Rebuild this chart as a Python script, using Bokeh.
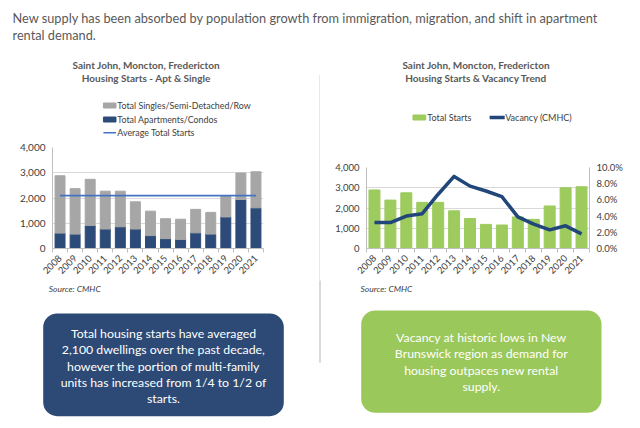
import math
from bokeh.plotting import figure
from bokeh.layouts import column, row
from bokeh.models import (Range1d, LinearAxis, FixedTicker, NumeralTickFormatter,
                          PrintfTickFormatter, BoxAnnotation, ColumnDataSource, Spacer)
from bokeh.core.properties import value
from bokeh.embed import file_html
from bokeh.resources import INLINE

# ---------------- data ----------------
years = ["2008", "2009", "2010", "2011", "2012", "2013", "2014",
         "2015", "2016", "2017", "2018", "2019", "2020", "2021"]
apartments = [610, 570, 910, 770, 860, 770, 510, 390, 360, 620, 570, 1250, 1940, 1610]
singles = [2270, 1800, 1830, 1500, 1410, 1080, 970, 790, 800, 930, 860, 830, 1050, 1430]
total_starts = [2890, 2390, 2750, 2280, 2280, 1860, 1480, 1190, 1160, 1560, 1440, 2100, 3000, 3050]
vacancy = [3.2, 3.2, 4.0, 4.3, 6.7, 8.9, 7.7, 7.1, 6.4, 3.9, 3.0, 2.3, 2.8, 1.8]
starts_ticks = [0, 1000, 2000, 3000, 4000]
vacancy_ticks = [0, 2, 4, 6, 8, 10]

header_lines = ["New supply has been absorbed by population growth from immigration, migration, and shift in apartment",
                "rental demand."]
left_title = ["Saint John, Moncton, Fredericton", "Housing Starts - Apt & Single"]
right_title = ["Saint John, Moncton, Fredericton", "Housing Starts & Vacancy Trend"]
left_legend = ["Total Singles/Semi-Detached/Row", "Total Apartments/Condos", "Average Total Starts"]
right_legend = ["Total Starts", "Vacancy (CMHC)"]
source_text = "Source: CMHC"
left_box_lines = ["Total housing starts have averaged", "2,100 dwellings over the past decade,",
                  "however the portion of multi-family", "units has increased from 1/4 to 1/2 of",
                  "starts."]
right_box_lines = ["Vacancy at historic lows in New", "Brunswick region as demand for",
                   "housing outpaces new rental", "supply."]

# ---------------- style ----------------
FONT = "Lato"
NAVY = "#2D4B79"
GRAY = "#A6A6A6"
AVG = "#4472C4"
GREEN = "#9DCB5E"
LINE_NAVY = "#20467A"
BOX_NAVY = "#2C4A75"
BOX_GREEN = "#9BC85A"
TXT = "#404040"
TITLE = "#595959"
GRID = "#D9D9D9"
AXIS = "#BFBFBF"


def canvas(w, h):
    p = figure(width=w, height=h, x_range=Range1d(0, w), y_range=Range1d(h, 0),
               x_axis_type=None, y_axis_type=None, output_backend="svg",
               toolbar_location=None, min_border=0, outline_line_color=None)
    return p


def txt(p, x, y, text, size, color, align="left", style="normal"):
    p.text(x=[x], y=[y], text=[text], text_font=value(FONT), text_font_size=size,
           text_color=color, text_align=align, text_baseline="middle", text_font_style=style)


# ---------------- header ----------------
header = canvas(640, 50)
for i, line in enumerate(header_lines):
    txt(header, 12, 17 + 17 * i, line, "12.75px", TITLE)

# ---------------- left top (title + legend) ----------------
top_l = canvas(319, 90)
for i, line in enumerate(left_title):
    txt(top_l, 141.7, 14 + 13 * i, line, "10px", TITLE, align="center", style="bold")
top_l.quad(left=[77], right=[96], top=[52.5], bottom=[57.5], color=GRAY)
top_l.quad(left=[77], right=[96], top=[66.5], bottom=[71.5], color=NAVY)
top_l.line(x=[77, 96], y=[82.3, 82.3], color=AVG, line_width=1.5)
for i, lab in enumerate(left_legend):
    txt(top_l, 98, 55 + 13.7 * i, lab, "8.9px", TXT)

# ---------------- right top (title + legend) ----------------
top_r = canvas(320, 90)
for i, line in enumerate(right_title):
    txt(top_r, 157.3, 14 + 13 * i, line, "10px", TITLE, align="center", style="bold")
top_r.quad(left=[66.7], right=[85], top=[64.5], bottom=[69.5], color=GREEN)
txt(top_r, 87.3, 67, right_legend[0], "9px", TXT)
top_r.line(x=[176.7, 198.3], y=[67, 67], color=LINE_NAVY, line_width=3.5)
txt(top_r, 199, 67, right_legend[1], "9px", TXT)

# ---------------- left chart ----------------
xs = list(range(len(years)))
src_l = ColumnDataSource(dict(x=xs, apt=apartments, sing=singles))
pl = figure(width=319, height=140, x_range=Range1d(-0.5, len(years) - 0.5), y_range=Range1d(0, 4000),
            output_backend="svg", toolbar_location=None, outline_line_color=None,
            min_border_left=52, min_border_right=56, min_border_top=7, min_border_bottom=30)
pl.vbar_stack(["apt", "sing"], x="x", width=0.66, color=[NAVY, GRAY], source=src_l)
totals_l = [a + s for a, s in zip(apartments, singles)]
avg = sum(totals_l) / len(totals_l)
pl.line(x=[xs[0], xs[-1]], y=[avg, avg], color=AVG, line_width=1.6)


def style_axes(p, label_size):
    p.xgrid.visible = False
    p.ygrid.grid_line_color = GRID
    p.yaxis[0].ticker = FixedTicker(ticks=starts_ticks)
    p.yaxis[0].formatter = NumeralTickFormatter(format="0,0")
    for ax in p.yaxis:
        ax.major_tick_line_color = None
        ax.minor_tick_line_color = None
        ax.major_tick_out = 0
        ax.major_tick_in = 0
        ax.axis_line_color = AXIS
        ax.major_label_standoff = 7
        ax.major_label_text_font = FONT
        ax.major_label_text_font_size = label_size
        ax.major_label_text_color = TXT
    xa = p.xaxis[0]
    xa.ticker = FixedTicker(ticks=xs, minor_ticks=[i - 0.5 for i in range(len(years) + 1)])
    xa.major_label_overrides = {i: y for i, y in enumerate(years)}
    xa.major_tick_line_color = None
    xa.major_tick_out = 0
    xa.major_tick_in = 0
    xa.minor_tick_line_color = AXIS
    xa.minor_tick_out = 4
    xa.minor_tick_in = 0
    xa.axis_line_color = AXIS
    xa.major_label_orientation = math.pi / 4
    xa.major_label_standoff = 4
    xa.major_label_text_font = FONT
    xa.major_label_text_font_size = "9.5px"
    xa.major_label_text_color = TXT


style_axes(pl, "10px")

# ---------------- right chart ----------------
pr = figure(width=320, height=140, x_range=Range1d(-0.5, len(years) - 0.5), y_range=Range1d(0, 4000),
            output_backend="svg", toolbar_location=None, outline_line_color=None,
            min_border_left=46, min_border_right=51, min_border_top=27, min_border_bottom=30)
pr.extra_y_ranges = {"vac": Range1d(0, 10)}
pr.add_layout(LinearAxis(y_range_name="vac", ticker=FixedTicker(ticks=vacancy_ticks),
                         formatter=PrintfTickFormatter(format="%.1f%%")), "right")
pr.vbar(x=xs, top=total_starts, width=0.69, color=GREEN)
pr.line(x=xs, y=vacancy, y_range_name="vac", line_width=3.5, color=LINE_NAVY, line_join="round")
style_axes(pr, "9.5px")

# ---------------- divider ----------------
div_fig = canvas(1, 230)
div_fig.quad(left=[0], right=[1], top=[25], bottom=[230], color=GRID)

middle = row(column(top_l, pl, spacing=0), column(Spacer(width=1, height=0), div_fig, spacing=0),
             column(top_r, pr, spacing=0), spacing=0)

# ---------------- bottom ----------------
bottom = canvas(640, 148)
bottom.quad(left=[319], right=[320], top=[0], bottom=[82], color=GRID)
txt(bottom, 48.3, 8.3, source_text, "8.5px", TXT, style="italic")
txt(bottom, 360, 8.3, source_text, "8.5px", TXT, style="italic")
bottom.add_layout(BoxAnnotation(left=42.7, right=283.3, top=33, bottom=135.7, fill_color=BOX_NAVY,
                                fill_alpha=1, line_color=None, border_radius=14, level="underlay"))
bottom.add_layout(BoxAnnotation(left=360.7, right=601, top=30, bottom=132.3, fill_color=BOX_GREEN,
                                fill_alpha=1, line_color=None, border_radius=14, level="underlay"))
for i, line in enumerate(left_box_lines):
    txt(bottom, 163, 53.3 + 16.1 * i, line, "12.3px", "white", align="center")
for i, line in enumerate(right_box_lines):
    txt(bottom, 480.8, 56.7 + 16.4 * i, line, "12.3px", "white", align="center")

layout = column(header, middle, bottom, spacing=0)
open("out.html", "w").write(file_html(layout, INLINE))
